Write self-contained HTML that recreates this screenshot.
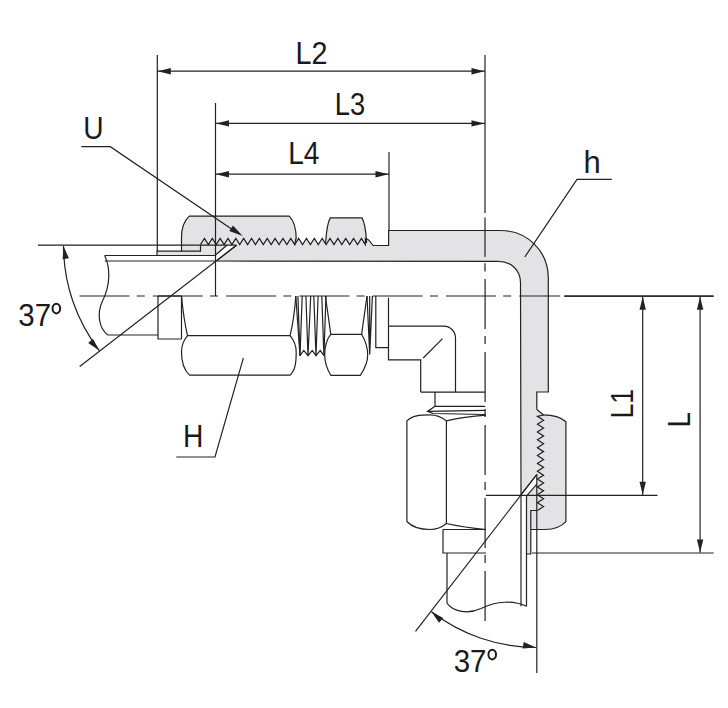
<!DOCTYPE html>
<html><head><meta charset="utf-8"><style>
html,body{margin:0;padding:0;background:#fff;}
svg{display:block;}
</style></head><body>
<svg width="728" height="708" viewBox="0 0 728 708">
<rect width="728" height="708" fill="#fff"/>
<path d="M157,251.2 200.5,251.2 200.5,244.6 204.43,238.4 208.35,244.6 212.28,238.4 216.2,244.6 220.13,238.4 224.05,244.6 227.98,238.4 231.9,244.6 235.83,238.4 239.75,244.6 243.68,238.4 247.6,244.6 251.53,238.4 255.45,244.6 259.38,238.4 263.3,244.6 267.23,238.4 271.15,244.6 275.08,238.4 279,244.6 282.93,238.4 286.85,244.6 290.78,238.4 294.7,244.6 298.63,238.4 302.55,244.6 306.48,238.4 310.4,244.6 314.33,238.4 318.25,244.6 322.18,238.4 326.1,244.6 330.03,238.4 333.95,244.6 337.88,238.4 341.8,244.6 345.73,238.4 349.65,244.6 353.58,238.4 357.5,244.6 361.43,238.4 365.35,244.6 365.4,238.4 368.7,240 373.1,245.5 388.6,245.5 388.6,230.5 500.7,230.5 C527,230.5 548.3,251 548.3,278 L548.3,392 L536.8,392 L536.8,409.5 L536.8,409.5 543.6,415 537.4,416.3 543.6,420.22 537.4,424.15 543.6,428.07 537.4,432 543.6,435.92 537.4,439.85 543.6,443.77 537.4,447.7 543.6,451.62 537.4,455.55 543.6,459.47 537.4,463.4 543.6,467.32 537.4,471.25 543.6,475.17 537.4,479.1 543.6,483.02 537.4,486.95 543.6,490.87 537.4,494.8 543.6,498.72 537.4,502.65 543.6,506.57 537.4,510.5 L530.8,510.5 L530.8,554 L526.5,554 L526.5,496.1 L536.8,484.1 L536.8,474.5 L521,494.7 L520.5,283 C520.5,270 511,261.3 498,261.3 L216.3,261 L236.5,245.2 L226.9,245.2 L214.9,255.5 L157,255.5 Z" fill="#e3e3e5"/><path d="M325.6,243 C326.3,232 327.8,222 330.3,217.9 H362 C364.5,222 366,232 366.6,243 V245 H325.6Z" fill="#e3e3e5"/><g><path d="M181.5,251.2 V237 C181.5,228 184,221 189.3,216.1 H289.3 C294,221 296.2,229 296.2,238 V245 H200.5 V251.2 Z" fill="#e3e3e5"/><g fill="none" stroke="#222222" stroke-width="1.2"><path d="M181.5,251.2 V237 C181.5,228 184,221 189.3,216.1 H289.3 C294,221 296.2,229 296.2,239" /><path d="M157,255.5 V251.2 H200.5 V244.9" /><line x1="104.7" y1="255.5" x2="214.9" y2="255.5"/><line x1="104.7" y1="261" x2="216.3" y2="261"/><line x1="214.9" y1="255.5" x2="226.9" y2="245.2"/><line x1="216.3" y1="261" x2="236.5" y2="245.2"/><line x1="38" y1="245.2" x2="236.5" y2="245.2"/><line x1="236.5" y1="245.2" x2="79.7" y2="366.5"/><path d="M63.5,245.7 A173,173 0 0 0 99.25,350.52" /><path d="M63.5,246 L62.61,259.36 L68.91,258.25 Z" fill="#222222" stroke="none"/><path d="M99.25,350.52 L92.91,338.72 L88.16,343.01 Z" fill="#222222" stroke="none"/><path d="M104.7,255.5 C110.5,268 110.5,285 102.5,301 C96.5,314 99,328 107.7,335" /><line x1="107.7" y1="335" x2="158" y2="335"/><path d="M158,296 V339 H181.5" /><line x1="181.5" y1="296" x2="181.5" y2="339"/><path d="M181.5,296 Q183.5,318 187.5,335.6 H290.1 Q294.3,318 295.8,296" /><path d="M187.5,335.6 C183,341 181.5,346 181.5,352 C181.5,362 184,370 189.5,375.1 H290.1 C295.5,370 296.2,362 296.2,352 C296.2,346 294.5,341 290.1,335.6" /><path d="M200.5,244.6 204.43,238.4 208.35,244.6 212.28,238.4 216.2,244.6 220.13,238.4 224.05,244.6 227.98,238.4 231.9,244.6 235.83,238.4 239.75,244.6 243.68,238.4 247.6,244.6 251.53,238.4 255.45,244.6 259.38,238.4 263.3,244.6 267.23,238.4 271.15,244.6 275.08,238.4 279,244.6 282.93,238.4 286.85,244.6 290.78,238.4 294.7,244.6 296,238.4" /></g></g><g transform="matrix(0,-1,-1,0,782,711)"><path d="M181.5,251.2 V237 C181.5,228 184,221 189.3,216.1 H289.3 C294,221 296.2,229 296.2,238 V245 H200.5 V251.2 Z" fill="#e3e3e5"/><g fill="none" stroke="#222222" stroke-width="1.2"><path d="M181.5,251.2 V237 C181.5,228 184,221 189.3,216.1 H289.3 C294,221 296.2,229 296.2,239" /><path d="M157,255.5 V251.2 H200.5 V244.9" /><line x1="104.7" y1="255.5" x2="214.9" y2="255.5"/><line x1="104.7" y1="261" x2="216.3" y2="261"/><line x1="214.9" y1="255.5" x2="226.9" y2="245.2"/><line x1="216.3" y1="261" x2="236.5" y2="245.2"/><line x1="38" y1="245.2" x2="236.5" y2="245.2"/><line x1="236.5" y1="245.2" x2="79.7" y2="366.5"/><path d="M63.5,245.7 A173,173 0 0 0 99.25,350.52" /><path d="M63.5,246 L62.61,259.36 L68.91,258.25 Z" fill="#222222" stroke="none"/><path d="M99.25,350.52 L92.91,338.72 L88.16,343.01 Z" fill="#222222" stroke="none"/><path d="M104.7,255.5 C110.5,268 110.5,285 102.5,301 C96.5,314 99,328 107.7,335" /><line x1="107.7" y1="335" x2="158" y2="335"/><path d="M158,296 V339 H181.5" /><line x1="181.5" y1="296" x2="181.5" y2="339"/><path d="M181.5,296 Q183.5,318 187.5,335.6 H290.1 Q294.3,318 295.8,296" /><path d="M187.5,335.6 C183,341 181.5,346 181.5,352 C181.5,362 184,370 189.5,375.1 H290.1 C295.5,370 296.2,362 296.2,352 C296.2,346 294.5,341 290.1,335.6" /><path d="M200.5,244.6 204.43,238.4 208.35,244.6 212.28,238.4 216.2,244.6 220.13,238.4 224.05,244.6 227.98,238.4 231.9,244.6 235.83,238.4 239.75,244.6 243.68,238.4 247.6,244.6 251.53,238.4 255.45,244.6 259.38,238.4 263.3,244.6 267.23,238.4 271.15,244.6 275.08,238.4 279,244.6 282.93,238.4 286.85,244.6 290.78,238.4 294.7,244.6 296,238.4" /></g></g><g fill="none" stroke="#222222" stroke-width="1.2"><line x1="157.3" y1="55" x2="157.3" y2="251.2" /><line x1="215.5" y1="103" x2="215.5" y2="296" /><line x1="389" y1="152" x2="389" y2="230.5" /><line x1="157.3" y1="71.2" x2="485" y2="71.2" /><line x1="215.5" y1="123.4" x2="485" y2="123.4" /><line x1="215.5" y1="174.2" x2="389" y2="174.2" /><line x1="564" y1="296.2" x2="713.6" y2="296.2" /><line x1="485.9" y1="495.3" x2="657.5" y2="495.3" /><line x1="532" y1="553" x2="713.6" y2="553" /><line x1="642.7" y1="296.5" x2="642.7" y2="495" /><line x1="700.1" y1="296.5" x2="700.1" y2="552.6" /><path d="M294.7,244.6 298.63,238.4 302.55,244.6 306.48,238.4 310.4,244.6 314.33,238.4 318.25,244.6 322.18,238.4 326.1,244.6 330.03,238.4 333.95,244.6 337.88,238.4 341.8,244.6 345.73,238.4 349.65,244.6 353.58,238.4 357.5,244.6 361.43,238.4 365.35,244.6 365.4,238.4 368.7,240 373.1,245.5 L388.6,245.5 L388.6,230.5 L500.7,230.5 C527,230.5 548.3,251 548.3,278 L548.3,392 L536.8,392 L536.8,409.5" /><line x1="216.3" y1="261" x2="498" y2="261.3" /><path d="M498,261.3 C511,261.3 520.5,270 520.5,283 L521,494.7" /><path d="M536.8,409.5 543.6,415" /><path d="M325.6,243 C326.3,232 327.8,222 330.3,217.9 H362 C364.5,222 366,232 366.6,243" /><path d="M79.5,296 H560.2" stroke-dasharray="50 7.2 8 8.1"/><path d="M564.6,296.1 H713.6" /><path d="M158,296 H181.5" /><path d="M297.9,296 L300,355.7" /><path d="M295.8,296 L300,355.7 L302.2,296" /><path d="M305.9,296 L308,355.7 L310.7,296" /><path d="M313.8,296 L316,355.7 L318.1,296" /><path d="M321.8,296 L323.9,355.7 L326,296" /><path d="M300,355.7 L303.8,350.4 L308,355.7 L312.2,350.4 L316,355.7 L320.2,350.4 L323.9,355.7" /><path d="M325.4,296 L330.8,334.3 H361.6 L367,296" /><path d="M330.8,334.3 C326,340 324.7,348 324.7,355 C324.7,362 327,369 330.8,375.3 H360.3 C364.5,369 367.7,362 367.7,355 C367.7,348 365,340 361.6,334.3" /><path d="M367,296 L369.7,354.5 L372.4,296 M369.7,296 V354.5" /><path d="M375.8,296 V347.7 H388.5" /><path d="M388.5,297.8 V359.8 H420.7 V392.1 M388.5,326.2 H443.6 C450,326.2 455.5,331 455.5,338 V392.1" /><line x1="423.2" y1="358" x2="442.5" y2="338.6" /><path d="M420.7,392.1 H485.2 M435,392.1 V406.3 H485.2 M435,406.3 L427.5,411.4 L433,413.5 M427.5,411.4 L485.2,410.4 M433,413.5 L485.2,414.5" /><path d="M81.4,146.7 H110.3 L236,232" /><path d="M611.8,179.4 H577 L524.8,257" /><path d="M176.3,457 H215 L243.4,357.8" /><path d="M485,55 V212.9 M485,217.4 V256.9 M485,263.3 V271.6" /><path d="M485.1,279 V623.6" stroke-dasharray="50 7 8 8"/></g><path d="M157.8,71.2 L170.8,74.4 L170.8,68 Z" fill="#222222" stroke="none"/><path d="M484.5,71.2 L471.5,68 L471.5,74.4 Z" fill="#222222" stroke="none"/><path d="M216,123.4 L229,126.6 L229,120.2 Z" fill="#222222" stroke="none"/><path d="M484.5,123.4 L471.5,120.2 L471.5,126.6 Z" fill="#222222" stroke="none"/><path d="M216,174.2 L229,177.4 L229,171 Z" fill="#222222" stroke="none"/><path d="M388.5,174.2 L375.5,171 L375.5,177.4 Z" fill="#222222" stroke="none"/><path d="M642.7,296.7 L639.5,309.7 L645.9,309.7 Z" fill="#222222" stroke="none"/><path d="M642.7,494.8 L645.9,481.8 L639.5,481.8 Z" fill="#222222" stroke="none"/><path d="M700.1,296.7 L696.9,309.7 L703.3,309.7 Z" fill="#222222" stroke="none"/><path d="M700.1,552.5 L703.3,539.5 L696.9,539.5 Z" fill="#222222" stroke="none"/><path d="M242.7,236 L232.94,225.44 L229.25,230.91 Z" fill="#222222" stroke="none"/><g fill="#1a1a1a" font-family="Liberation Sans, sans-serif"><text transform="translate(295.4,63.9) scale(0.2878,0.3129)" font-size="100">L2</text><text transform="translate(334.82,114.69) scale(0.2727,0.3056)" font-size="100">L3</text><text transform="translate(288.25,163.9) scale(0.2810,0.3159)" font-size="100">L4</text><text transform="translate(83.24,139.39) scale(0.2821,0.3114)" font-size="100">U</text><text transform="translate(583.53,173.12) scale(0.3095,0.3181)" font-size="100">h</text><text transform="translate(182.94,446.6) scale(0.2821,0.3145)" font-size="100">H</text><text transform="translate(18.32,325.59) scale(0.2951,0.3127)" font-size="100">37</text><text transform="translate(453.72,672.29) scale(0.2951,0.3085)" font-size="100">37</text><text transform="translate(633,418.53) rotate(-90) scale(0.2663,0.3087)" font-size="100">L1</text><text transform="translate(690,427.54) rotate(-90) scale(0.2795,0.3087)" font-size="100">L</text></g><g fill="none" stroke="#1a1a1a" stroke-width="2"><ellipse cx="56.35" cy="308.6" rx="3.8" ry="4.8"/><ellipse cx="492.25" cy="654.6" rx="3.8" ry="4.8"/></g>
</svg></body></html>
